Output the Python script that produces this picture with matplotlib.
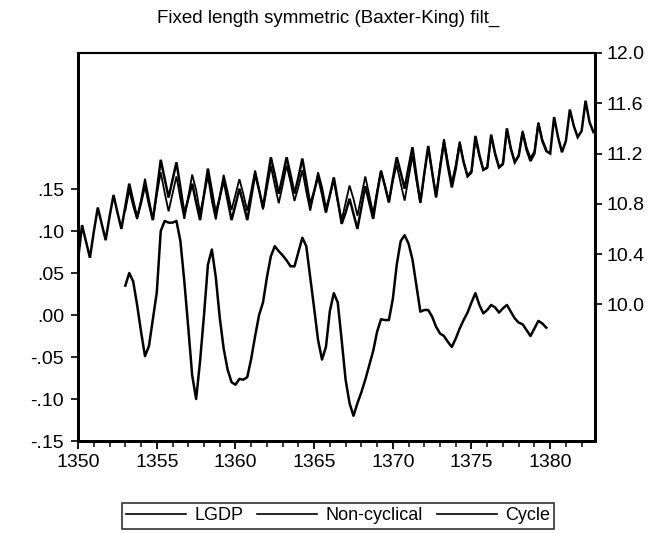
import numpy as np
import matplotlib
matplotlib.use('Agg')
import matplotlib.pyplot as plt
from matplotlib.ticker import MultipleLocator
from matplotlib.lines import Line2D

plt.rcParams['font.family'] = ['Liberation Sans', 'DejaVu Sans']

# ---------------- data (quarterly, 1350Q1 .. 1382Q4) ----------------
lgdp = [
    10.36, 10.63, 10.50, 10.37,   # 1350
    10.58, 10.77, 10.64, 10.51,   # 1351
    10.70, 10.87, 10.73, 10.60,   # 1352
    10.78, 10.96, 10.82, 10.69,   # 1353
    10.81, 10.95, 10.80, 10.67,   # 1354
    10.90, 11.15, 11.00, 10.85,   # 1355
    10.99, 11.13, 10.93, 10.72,   # 1356
    10.84, 10.96, 10.81, 10.67,   # 1357
    10.87, 11.08, 10.90, 10.72,   # 1358
    10.85, 10.99, 10.83, 10.67,   # 1359
    10.79, 10.92, 10.80, 10.67,   # 1360
    10.85, 11.04, 10.91, 10.77,   # 1361
    10.97, 11.17, 11.03, 10.88,   # 1362
    11.02, 11.17, 11.03, 10.88,   # 1363
    11.01, 11.16, 10.98, 10.79,   # 1364
    10.90, 11.02, 10.88, 10.73,   # 1365
    10.87, 11.01, 10.83, 10.64,   # 1366
    10.73, 10.84, 10.72, 10.60,   # 1367
    10.77, 10.94, 10.81, 10.68,   # 1368
    10.88, 11.06, 10.94, 10.81,   # 1369
    11.00, 11.17, 11.05, 10.92,   # 1370
    11.09, 11.25, 11.02, 10.81,   # 1371
    11.04, 11.26, 11.05, 10.85,   # 1372
    11.08, 11.29, 11.10, 10.93,   # 1373
    11.08, 11.28, 11.13, 11.02,   # 1374
    11.06, 11.34, 11.19, 11.07,   # 1375
    11.09, 11.35, 11.20, 11.09,   # 1376
    11.12, 11.40, 11.24, 11.13,   # 1377
    11.18, 11.37, 11.23, 11.14,   # 1378
    11.20, 11.44, 11.30, 11.22,   # 1379
    11.20, 11.49, 11.33, 11.21,   # 1380
    11.30, 11.55, 11.42, 11.33,   # 1381
    11.38, 11.62, 11.45, 11.37,   # 1382
]

# Baxter-King cycle and non-cyclical part, 1353Q1 .. 1379Q4
cycle = [
    0.035, 0.050, 0.040, 0.012,     # 1353
    -0.020, -0.049, -0.037, -0.005, # 1354
    0.027, 0.100, 0.112, 0.110,     # 1355
    0.110, 0.112, 0.088, 0.040,     # 1356
    -0.015, -0.072, -0.100, -0.055, # 1357
    0.000, 0.060, 0.078, 0.045,     # 1358
    -0.003, -0.040, -0.065, -0.080, # 1359
    -0.083, -0.076, -0.077, -0.074, # 1360
    -0.052, -0.025, 0.000, 0.015,   # 1361
    0.045, 0.070, 0.082, 0.076,     # 1362
    0.071, 0.065, 0.058, 0.058,     # 1363
    0.075, 0.092, 0.082, 0.045,     # 1364
    0.008, -0.030, -0.053, -0.038,  # 1365
    0.005, 0.026, 0.015, -0.030,    # 1366
    -0.077, -0.105, -0.120, -0.105, # 1367
    -0.092, -0.077, -0.060, -0.043, # 1368
    -0.020, -0.005, -0.006, -0.006, # 1369
    0.019, 0.060, 0.088, 0.095,     # 1370
    0.085, 0.066, 0.035, 0.004,     # 1371
    0.006, 0.006, -0.002, -0.014,   # 1372
    -0.022, -0.025, -0.032, -0.038, # 1373
    -0.028, -0.016, -0.006, 0.003,  # 1374
    0.015, 0.026, 0.012, 0.002,     # 1375
    0.006, 0.012, 0.009, 0.003,     # 1376
    0.008, 0.012, 0.004, -0.004,    # 1377
    -0.009, -0.011, -0.018, -0.025, # 1378
    -0.016, -0.007, -0.010, -0.015, # 1379
]

noncyclical = [
    10.745, 10.910, 10.780, 10.678,  # 1353
    10.830, 10.999, 10.837, 10.675,  # 1354
    10.873, 11.050, 10.888, 10.740,  # 1355
    10.880, 11.018, 10.842, 10.680,  # 1356
    10.855, 11.032, 10.910, 10.725,  # 1357
    10.870, 11.020, 10.822, 10.675,  # 1358
    10.853, 11.030, 10.895, 10.750,  # 1359
    10.873, 10.996, 10.877, 10.744,  # 1360
    10.902, 11.065, 10.910, 10.755,  # 1361
    10.925, 11.100, 10.948, 10.804,  # 1362
    10.949, 11.105, 10.972, 10.822,  # 1363
    10.935, 11.068, 10.898, 10.745,  # 1364
    10.892, 11.050, 10.933, 10.768,  # 1365
    10.865, 10.984, 10.815, 10.670,  # 1366
    10.807, 10.945, 10.840, 10.705,  # 1367
    10.862, 11.017, 10.870, 10.723,  # 1368
    10.900, 11.065, 10.946, 10.816,  # 1369
    10.981, 11.110, 10.962, 10.825,  # 1370
    11.005, 11.184, 10.985, 10.806,  # 1371
    11.034, 11.254, 11.052, 10.864,  # 1372
    11.102, 11.315, 11.132, 10.968,  # 1373
    11.108, 11.296, 11.136, 11.017,  # 1374
    11.045, 11.314, 11.178, 11.068,  # 1375
    11.084, 11.338, 11.191, 11.087,  # 1376
    11.112, 11.388, 11.236, 11.134,  # 1377
    11.189, 11.381, 11.248, 11.165,  # 1378
    11.216, 11.447, 11.310, 11.235,  # 1379
]

start_year = 1350
cycle_start_year = 1353
x_ticks = [1350, 1355, 1360, 1365, 1370, 1375, 1380]
left_ticks = [-0.15, -0.10, -0.05, 0.00, 0.05, 0.10, 0.15]
left_labels = ['-.15', '-.10', '-.05', '.00', '.05', '.10', '.15']
right_ticks = [10.0, 10.4, 10.8, 11.2, 11.6, 12.0]
right_labels = ['10.0', '10.4', '10.8', '11.2', '11.6', '12.0']
title = 'Fixed length symmetric (Baxter-King) filt_'
legend_labels = ['LGDP', 'Non-cyclical', 'Cycle']

# ---------------- plot ----------------
t_all = start_year + np.arange(len(lgdp)) / 4.0
t_cyc = cycle_start_year + np.arange(len(cycle)) / 4.0

fig = plt.figure(figsize=(6.51, 5.33), dpi=100)
ax = fig.add_axes([0.120, 0.1726, 0.794, 0.728])
ax2 = ax.twinx()

ax2.plot(t_all, lgdp, color='black', lw=1.8, solid_joinstyle='miter')
ax2.plot(t_cyc, noncyclical, color='black', lw=1.3, solid_joinstyle='miter')
ax.plot(t_cyc, cycle, color='black', lw=1.8)

ax.set_xlim(1350, 1382.85)
ax.set_ylim(-0.15, 0.312)
ax2.set_ylim(8.912, 12.0)

ax.set_xticks(x_ticks)
ax.set_xticklabels([str(v) for v in x_ticks], fontsize=14)
ax.xaxis.set_minor_locator(MultipleLocator(1))
ax.set_yticks(left_ticks)
ax.set_yticklabels(left_labels, fontsize=14)
ax2.set_yticks(right_ticks)
ax2.set_yticklabels(right_labels, fontsize=14)

ax.tick_params(axis='x', which='major', direction='out', length=6, width=1.3, pad=3)
ax.tick_params(axis='x', which='minor', direction='out', length=4, width=1.1)
ax.tick_params(axis='y', direction='out', length=5, width=1.2, pad=5)
ax2.tick_params(axis='y', direction='out', length=5, width=1.2, pad=3)

for a in (ax, ax2):
    a.spines['left'].set_linewidth(2.0)
    a.spines['right'].set_linewidth(2.0)
    a.spines['bottom'].set_linewidth(2.0)
    a.spines['top'].set_linewidth(1.5)

fig.text(0.504, 0.965, title, ha='center', va='center', fontsize=13.5)

handles = [Line2D([], [], color='black', lw=1.2) for _ in legend_labels]
leg = fig.legend(handles, legend_labels, loc='center',
                 bbox_to_anchor=(338 / 651, 1 - 516 / 533), ncol=3,
                 frameon=True, fancybox=False, edgecolor='black',
                 fontsize=13, handlelength=3.3, handletextpad=0.45,
                 columnspacing=0.8, borderpad=0.25, borderaxespad=0)
leg.get_frame().set_linewidth(1.2)

fig.savefig('out.png', dpi=100)
